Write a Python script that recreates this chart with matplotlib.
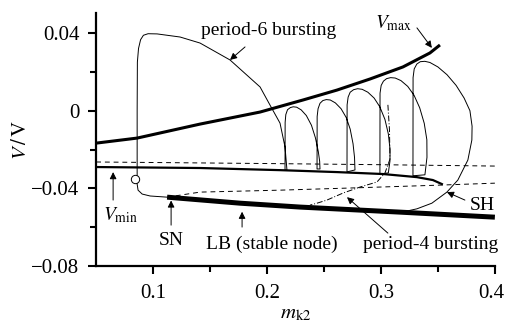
import matplotlib
matplotlib.use('Agg')
import matplotlib.pyplot as plt
import matplotlib.transforms as mtransforms

plt.rcParams['font.family'] = ['Liberation Serif', 'DejaVu Serif']
plt.rcParams['mathtext.fontset'] = 'stix'

# branches of the bifurcation diagram (m_k2, V)
vmax_m = [0.050, 0.086, 0.1412, 0.1939, 0.2316, 0.2614, 0.2904, 0.3193, 0.3430, 0.3518]
vmax_v = [-0.0167, -0.0141, -0.0069, -0.0007, 0.0055, 0.0106, 0.0163, 0.0225, 0.0297, 0.0338]

vmin_m = [0.050, 0.1412, 0.2114, 0.2614, 0.3018, 0.3316, 0.3456, 0.3544]
vmin_v = [-0.0290, -0.0295, -0.0306, -0.0316, -0.0326, -0.0342, -0.0357, -0.0380]

upper_dash_m = [0.050, 0.20, 0.30, 0.40]
upper_dash_v = [-0.0264, -0.0272, -0.0278, -0.0285]

lower_dash_m = [0.1123, 0.1412, 0.2114, 0.2728, 0.3518, 0.40]
lower_dash_v = [-0.0445, -0.0419, -0.0409, -0.0398, -0.0383, -0.0373]

lb_m = [0.1123, 0.1763, 0.2289, 0.3167, 0.40]
lb_v = [-0.0445, -0.0476, -0.0496, -0.0522, -0.0548]

# period-6 bursting trajectory
p6_m = [0.1123, 0.0974, 0.0904, 0.0868, 0.0860, 0.0860, 0.0860, 0.0862, 0.0872, 0.0890, 0.0915, 0.0956,
        0.1035, 0.1237, 0.1412, 0.1675, 0.1939, 0.2026, 0.2114, 0.2158, 0.2175,
        0.2158, 0.2159, 0.2165, 0.2180, 0.2205, 0.2230, 0.2260, 0.2300, 0.2345, 0.2390, 0.2425, 0.2450, 0.2462, 0.2465,
        0.2439, 0.2440, 0.2448, 0.2465, 0.2490, 0.2520, 0.2555, 0.2600, 0.2650, 0.2695, 0.2730, 0.2755, 0.2768, 0.2772,
        0.2702, 0.2703, 0.2712, 0.2730, 0.2760, 0.2795, 0.2835, 0.2885, 0.2940, 0.2990, 0.3035, 0.3065, 0.3080, 0.3079, 0.3065,
        0.2991, 0.2992, 0.3002, 0.3022, 0.3050, 0.3085, 0.3125, 0.3175, 0.3235, 0.3290, 0.3340, 0.3380, 0.3403, 0.3404, 0.3386,
        0.3281, 0.3282, 0.3292, 0.3315, 0.3345, 0.3385, 0.3430, 0.3500, 0.3580, 0.3660, 0.3730, 0.3781, 0.3800, 0.3798, 0.3763,
        0.3675, 0.3579, 0.3447, 0.3316, 0.3200]
p6_v = [-0.0445, -0.0439, -0.0429, -0.0409, -0.0378, -0.0350, 0.0000, 0.0250, 0.0320, 0.0365, 0.0388, 0.0396,
        0.0395, 0.0379, 0.0348, 0.0261, 0.0122, 0.0029, -0.0064, -0.0187, -0.0306,
        -0.0306, -0.0060, -0.0020, 0.0005, 0.0016, 0.0020, 0.0018, 0.0004, -0.0025, -0.0075, -0.0140, -0.0210, -0.0260, -0.0300,
        -0.0300, -0.0030, 0.0010, 0.0038, 0.0052, 0.0057, 0.0055, 0.0040, 0.0010, -0.0035, -0.0095, -0.0170, -0.0240, -0.0305,
        -0.0315, 0.0030, 0.0070, 0.0095, 0.0108, 0.0113, 0.0110, 0.0095, 0.0065, 0.0020, -0.0045, -0.0120, -0.0200, -0.0260, -0.0320,
        -0.0326, 0.0090, 0.0130, 0.0152, 0.0165, 0.0170, 0.0168, 0.0155, 0.0125, 0.0080, 0.0015, -0.0065, -0.0150, -0.0240, -0.0330,
        -0.0335, 0.0170, 0.0215, 0.0240, 0.0252, 0.0254, 0.0248, 0.0225, 0.0185, 0.0130, 0.0065, 0.0000, -0.0080, -0.0151, -0.0254,
        -0.0357, -0.0419, -0.0476, -0.0505, -0.0520]

# visible part of the period-4 bursting trajectory
p4_m = [0.3061, 0.3075, 0.3079, 0.3035, 0.2965, 0.2816, 0.2667, 0.2526, 0.2439, 0.2377]
p4_v = [0.0030, -0.0100, -0.0250, -0.0321, -0.0367, -0.0393, -0.0424, -0.0460, -0.0476, -0.0486]

fig = plt.figure(figsize=(5.06, 3.23), dpi=100)
ax = fig.add_axes([0.190, 0.176, 0.788, 0.784])

ax.plot(upper_dash_m, upper_dash_v, color='k', lw=0.7, ls=(0, (5, 4)))
ax.plot(lower_dash_m, lower_dash_v, color='k', lw=0.7, ls=(0, (5, 4)))
ax.plot(p6_m, p6_v, color='k', lw=0.7)
ax.plot(p4_m, p4_v, color='k', lw=0.7, ls=(0, (6, 2, 1, 2)))
ax.plot(vmax_m, vmax_v, color='k', lw=2.2, solid_capstyle='butt')
ax.plot(vmin_m, vmin_v, color='k', lw=1.6, solid_capstyle='butt')
ax.plot(lb_m, lb_v, color='k', lw=3.6, solid_capstyle='butt')
ax.plot([0.0842], [-0.0352], 'o', mfc='white', mec='k', mew=0.7, ms=6)

ap = dict(arrowstyle='-|>', color='k', lw=0.7, mutation_scale=10, shrinkA=0, shrinkB=0)
fs = 14
ax.annotate('', xy=(0.1675, 0.0261), xytext=(0.1807, 0.0328), arrowprops=ap)
ax.text(0.2018, 0.0390, 'period-6 bursting', fontsize=fs, ha='center', va='baseline')
ax.annotate('', xy=(0.3447, 0.0323), xytext=(0.3316, 0.0426), arrowprops=ap)
ax.text(0.2947, 0.0426, r'$V_{\mathrm{max}}$', fontsize=fs, ha='left', va='baseline')
ax.annotate('', xy=(0.0649, -0.0316), xytext=(0.0649, -0.0460), arrowprops=ap)
ax.text(0.0561, -0.0563, r'$V_{\mathrm{min}}$', fontsize=fs, ha='left', va='baseline')
ax.annotate('', xy=(0.1158, -0.0462), xytext=(0.1158, -0.0589), arrowprops=ap)
ax.text(0.1158, -0.0692, 'SN', fontsize=fs, ha='center', va='baseline')
ax.annotate('', xy=(0.1781, -0.0520), xytext=(0.1781, -0.0599), arrowprops=ap)
ax.text(0.2044, -0.0713, 'LB (stable node)', fontsize=fs, ha='center', va='baseline')
ax.annotate('', xy=(0.2702, -0.0445), xytext=(0.3061, -0.0630), arrowprops=ap)
ax.text(0.3439, -0.0713, 'period-4 bursting', fontsize=fs, ha='center', va='baseline')
ax.annotate('', xy=(0.3579, -0.0419), xytext=(0.3737, -0.0460), arrowprops=ap)
ax.text(0.3781, -0.0512, 'SH', fontsize=fs, ha='left', va='baseline')

ax.set_xlim(0.05, 0.40)
ax.set_ylim(-0.08, 0.0503)
ax.set_xticks([0.1, 0.2, 0.3, 0.4])
ax.set_xticklabels(['0.1', '0.2', '0.3', '0.4'])
ax.set_xticks([0.15, 0.25, 0.35], minor=True)
ax.set_yticks([-0.08, -0.04, 0.0, 0.04])
ax.set_yticklabels(['\u22120.08', '\u22120.04', '0', '0.04'])
ax.set_yticks([-0.06, -0.02, 0.02], minor=True)

for s in ['top', 'right']:
    ax.spines[s].set_visible(False)
for s in ['left', 'bottom']:
    ax.spines[s].set_linewidth(1.6)
ax.tick_params(which='major', length=6, width=1.5, labelsize=15, direction='out')
ax.tick_params(which='minor', length=4, width=1.5, direction='out')
ax.tick_params(axis='x', pad=7)
ax.tick_params(axis='y', pad=6)

# keep the last x tick label inside the canvas
last = ax.get_xticklabels()[-1]
last.set_transform(last.get_transform() + mtransforms.ScaledTranslation(-4 / 100, 0, fig.dpi_scale_trans))

ax.set_xlabel(r'$m_{\mathrm{k2}}$', fontsize=15, labelpad=1)
ax.set_ylabel(r'$V\,/\,\mathrm{V}$', fontsize=15, labelpad=0)

fig.savefig('out.png', dpi=100)
